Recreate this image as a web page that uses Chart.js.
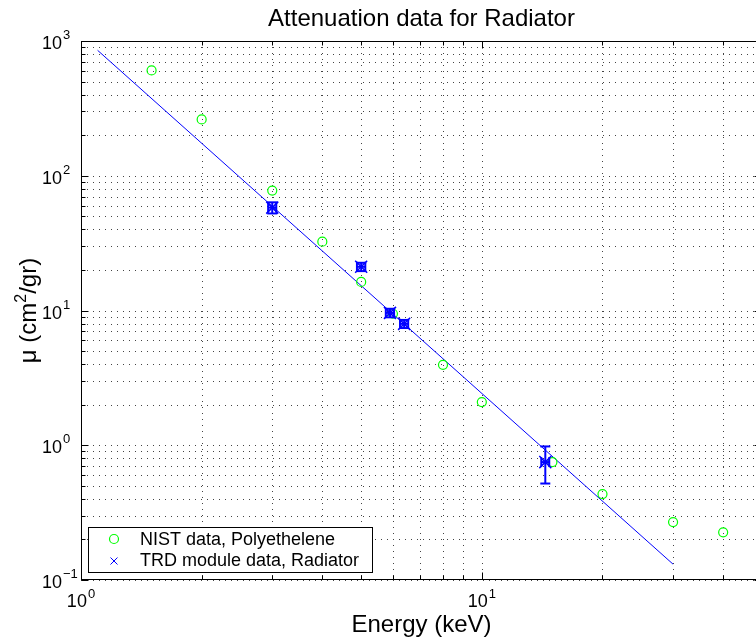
<!DOCTYPE html>
<html>
<head>
<meta charset="utf-8">
<title>Attenuation data for Radiator</title>
<script src="https://cdn.jsdelivr.net/npm/chart.js@4"></script>
<style>
  html, body { margin: 0; padding: 0; background: #fff; overflow: hidden; }
  canvas { display: block; }
</style>
</head>
<body>
<canvas id="atten-chart" width="780" height="644"></canvas>
<script>
// NIST polyethylene reference points (keV, cm2/gr)
const nistEnergy = [1.5, 2, 3, 4, 5, 6, 8, 10, 15, 20, 30, 40];
const nistMu = [605, 262, 77.6, 32.4, 16.3, 9.46, 3.95, 2.09, 0.75, 0.434, 0.269, 0.226];

// TRD module measurements with errors
const trdEnergy = [3, 5, 5.9, 6.4, 14.4];
const trdMu = [58, 21.1, 9.6, 7.96, 0.75];
const trdMuErr = [5.5, 1.5, 0.7, 0.55, 0.23];
const trdEnergyErr = [0.07, 0.12, 0.14, 0.15, 0.33];

// power law fit, end points
const fitEnergy = [1.1, 30];
const fitMu = [853, 0.131];

// axis ranges and decade tick labels
const xRange = [1, 50];
const yRange = [0.1, 1000];
const xDecades = [1, 10];
const xTickExp = ['0', '1'];
const yDecades = [0.1, 1, 10, 100, 1000];
const yTickExp = ['\u22121', '0', '1', '2', '3'];

const FONT = '"Liberation Sans", Arial, Helvetica, sans-serif';
const GREEN = '#00ff00';
const BLUE = '#0000ff';

function toPoints(xs, ys) {
  return xs.map((x, i) => ({x: x, y: ys[i]}));
}

// 1..9 per decade, inside range
function logGrid(min, max) {
  const out = [];
  for (let e = Math.floor(Math.log10(min)); e <= Math.ceil(Math.log10(max)); e++) {
    for (let k = 1; k <= 9; k++) {
      const v = k * Math.pow(10, e);
      if (v >= min * 0.999 && v <= max * 1.001) out.push({v: v, major: k === 1});
    }
  }
  return out;
}

function line(ctx, x1, y1, x2, y2) {
  ctx.beginPath();
  ctx.moveTo(x1, y1);
  ctx.lineTo(x2, y2);
  ctx.stroke();
}

function drawGrid(chart) {
  const {ctx, chartArea: a, scales: {x, y}} = chart;
  ctx.save();
  ctx.strokeStyle = '#444';
  ctx.lineWidth = 1;
  ctx.setLineDash([1, 5]);
  logGrid(x.min, x.max).forEach(t => {
    const px = Math.round(x.getPixelForValue(t.v)) + 0.5;
    line(ctx, px, a.top, px, a.bottom);
  });
  logGrid(y.min, y.max).forEach(t => {
    const py = Math.round(y.getPixelForValue(t.v)) + 0.5;
    line(ctx, a.left, py, a.right, py);
  });
  ctx.restore();
}

function drawErrorBars(chart) {
  const {ctx, scales: {x, y}} = chart;
  const cap = 5;
  ctx.save();
  ctx.strokeStyle = BLUE;
  ctx.lineWidth = 2;
  trdEnergy.forEach((e, i) => {
    const px = x.getPixelForValue(e);
    const py = y.getPixelForValue(trdMu[i]);
    const yHi = y.getPixelForValue(trdMu[i] + trdMuErr[i]);
    const yLo = y.getPixelForValue(trdMu[i] - trdMuErr[i]);
    const xLo = x.getPixelForValue(e - trdEnergyErr[i]);
    const xHi = x.getPixelForValue(e + trdEnergyErr[i]);
    line(ctx, px, yHi, px, yLo);
    line(ctx, px - cap, yHi, px + cap, yHi);
    line(ctx, px - cap, yLo, px + cap, yLo);
    line(ctx, xLo, py, xHi, py);
    line(ctx, xLo, py - cap, xLo, py + cap);
    line(ctx, xHi, py - cap, xHi, py + cap);
  });
  ctx.restore();
}

function drawAxesBox(chart) {
  const {ctx, chartArea: a, scales: {x, y}} = chart;
  ctx.save();
  ctx.strokeStyle = '#000';
  ctx.lineWidth = 1;
  const L = Math.round(a.left) + 0.5, R = Math.round(a.right) - 0.5;
  const T = Math.round(a.top) + 0.5, B = Math.round(a.bottom) - 0.5;
  ctx.strokeRect(L, T, R - L, B - T);
  logGrid(x.min, x.max).forEach(t => {
    const px = Math.round(x.getPixelForValue(t.v)) + 0.5;
    const len = t.major ? 7 : 4;
    line(ctx, px, B, px, B - len);
    line(ctx, px, T, px, T + len);
  });
  logGrid(y.min, y.max).forEach(t => {
    const py = Math.round(y.getPixelForValue(t.v)) + 0.5;
    const len = t.major ? 7 : 4;
    line(ctx, L, py, L + len, py);
    line(ctx, R, py, R - len, py);
  });
  ctx.restore();
}

function drawTickLabels(chart) {
  const {ctx, chartArea: a, scales: {x, y}} = chart;
  ctx.save();
  ctx.fillStyle = '#000';
  ctx.textBaseline = 'alphabetic';
  yDecades.forEach((v, i) => {
    const py = y.getPixelForValue(v);
    ctx.font = '18px ' + FONT;
    ctx.textAlign = 'right';
    ctx.fillText('10', a.left - 19, py + 8);
    ctx.font = '13px ' + FONT;
    ctx.textAlign = 'left';
    ctx.fillText(yTickExp[i], a.left - 18, py - 2);
  });
  xDecades.forEach((v, i) => {
    const px = x.getPixelForValue(v);
    ctx.font = '18px ' + FONT;
    const wb = ctx.measureText('10').width;
    ctx.font = '13px ' + FONT;
    const we = ctx.measureText(xTickExp[i]).width;
    const start = px - (wb + 1 + we) / 2;
    ctx.textAlign = 'left';
    ctx.font = '18px ' + FONT;
    ctx.fillText('10', start, a.bottom + 27);
    ctx.font = '13px ' + FONT;
    ctx.fillText(xTickExp[i], start + wb + 1, a.bottom + 18);
  });
  ctx.restore();
}

function drawTitles(chart) {
  const {ctx, chartArea: a} = chart;
  const cx = (a.left + a.right) / 2;
  ctx.save();
  ctx.fillStyle = '#000';
  ctx.textBaseline = 'alphabetic';
  ctx.textAlign = 'center';
  ctx.font = '24px ' + FONT;
  ctx.fillText('Attenuation data for Radiator', cx, 26);
  ctx.fillText('Energy (keV)', cx, 632);

  // y label with superscript, rotated
  const parts = [
    {t: '\u03bc (cm', size: 24, dy: 0},
    {t: '2', size: 16, dy: -10},
    {t: '/gr)', size: 24, dy: 0}
  ];
  let total = 0;
  parts.forEach(p => {
    ctx.font = p.size + 'px ' + FONT;
    p.w = ctx.measureText(p.t).width;
    total += p.w;
  });
  ctx.translate(36, (a.top + a.bottom) / 2);
  ctx.rotate(-Math.PI / 2);
  ctx.textAlign = 'left';
  let px = -total / 2;
  parts.forEach(p => {
    ctx.font = p.size + 'px ' + FONT;
    ctx.fillText(p.t, px, p.dy);
    px += p.w;
  });
  ctx.restore();
}

function drawLegend(chart) {
  const {ctx} = chart;
  ctx.save();
  ctx.fillStyle = '#fff';
  ctx.fillRect(88.5, 527.5, 284, 45);
  ctx.strokeStyle = '#000';
  ctx.lineWidth = 1;
  ctx.strokeRect(88.5, 527.5, 284, 45);

  ctx.strokeStyle = GREEN;
  ctx.lineWidth = 1.2;
  ctx.beginPath();
  ctx.arc(114, 539, 4.5, 0, Math.PI * 2);
  ctx.stroke();

  ctx.strokeStyle = BLUE;
  ctx.lineWidth = 1;
  line(ctx, 110.5, 557.5, 117.5, 564.5);
  line(ctx, 110.5, 564.5, 117.5, 557.5);

  ctx.fillStyle = '#000';
  ctx.font = '18px ' + FONT;
  ctx.textAlign = 'left';
  ctx.textBaseline = 'alphabetic';
  ctx.fillText('NIST data, Polyethelene', 140, 545);
  ctx.fillText('TRD module data, Radiator', 140, 566);
  ctx.restore();
}

const matlabLook = {
  id: 'matlabLook',
  beforeDatasetsDraw(chart) {
    drawGrid(chart);
  },
  afterDatasetsDraw(chart) {
    drawErrorBars(chart);
    drawAxesBox(chart);
    drawTickLabels(chart);
    drawTitles(chart);
    drawLegend(chart);
  }
};

const hiddenAxis = {
  type: 'logarithmic',
  grid: {display: false, drawTicks: false},
  border: {display: false},
  ticks: {display: false},
  title: {display: false}
};

new Chart(document.getElementById('atten-chart'), {
  type: 'scatter',
  data: {
    datasets: [
      {
        label: 'TRD module data, Radiator',
        data: toPoints(trdEnergy, trdMu),
        pointStyle: 'crossRot',
        pointRadius: 8.5,
        borderColor: BLUE,
        backgroundColor: BLUE,
        borderWidth: 1.5,
        order: 0
      },
      {
        label: 'NIST data, Polyethelene',
        data: toPoints(nistEnergy, nistMu),
        pointStyle: 'circle',
        pointRadius: 4.5,
        borderColor: GREEN,
        backgroundColor: 'rgba(0,0,0,0)',
        borderWidth: 1.2,
        order: 1
      },
      {
        label: 'fit',
        data: toPoints(fitEnergy, fitMu),
        showLine: true,
        pointRadius: 0,
        borderColor: BLUE,
        borderWidth: 1,
        order: 2
      }
    ]
  },
  options: {
    responsive: false,
    animation: false,
    devicePixelRatio: 1,
    clip: false,
    layout: {padding: {left: 81, top: 41, right: 18, bottom: 64}},
    plugins: {legend: {display: false}, tooltip: {enabled: false}, title: {display: false}},
    scales: {
      x: Object.assign({}, hiddenAxis, {min: xRange[0], max: xRange[1]}),
      y: Object.assign({}, hiddenAxis, {min: yRange[0], max: yRange[1]})
    }
  },
  plugins: [matlabLook]
});
</script>
</body>
</html>
